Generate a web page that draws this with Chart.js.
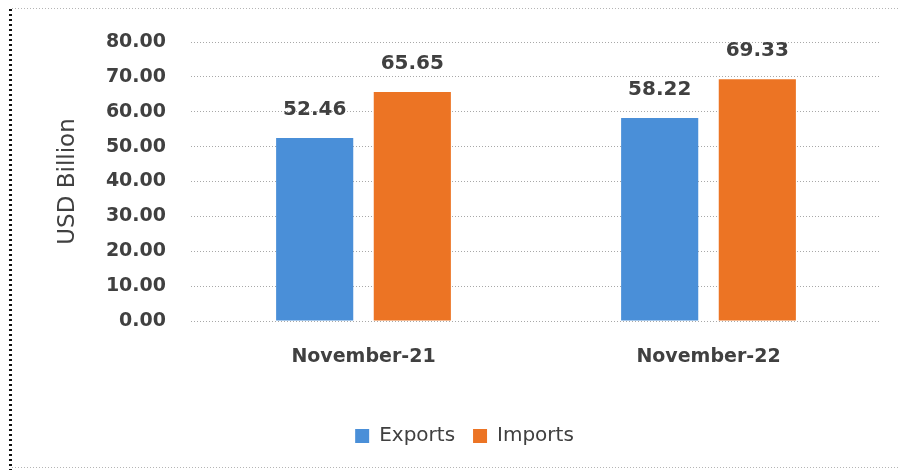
<!DOCTYPE html>
<html>
<head>
<meta charset="utf-8">
<script src="https://cdn.jsdelivr.net/npm/chart.js@4/dist/chart.umd.min.js"></script>
<style>
  html, body { margin: 0; padding: 0; background: #fff; }
  #wrap { width: 899px; height: 470px; position: relative; }
</style>
</head>
<body>
<div id="wrap"><canvas id="c" width="899" height="470"></canvas></div>
<script>
const categories = ['November-21', 'November-22'];
const exportsUSD = [52.46, 58.22];
const importsUSD = [65.65, 69.33];
const yTicks = [0, 10, 20, 30, 40, 50, 60, 70, 80];

const FONT = '"DejaVu Sans", sans-serif';
const TEXT = '#404040';

// dotted frame round the chart
const framePlugin = {
  id: 'frame',
  beforeDraw(chart) {
    const ctx = chart.ctx;
    ctx.save();
    ctx.fillStyle = '#fff';
    ctx.fillRect(0, 0, chart.width, chart.height);
    ctx.strokeStyle = '#b5b5b5';
    ctx.lineWidth = 1;
    ctx.setLineDash([1, 2]);
    ctx.beginPath();
    ctx.moveTo(12, 8.5); ctx.lineTo(899, 8.5);
    ctx.moveTo(12, 467.5); ctx.lineTo(899, 467.5);
    ctx.stroke();
    ctx.strokeStyle = '#111';
    ctx.lineWidth = 3;
    ctx.setLineDash([2, 3]);
    ctx.beginPath();
    ctx.moveTo(10.5, 9); ctx.lineTo(10.5, 470);
    ctx.stroke();
    ctx.restore();
  }
};

// centre the legend under the plot area rather than the whole canvas
const legendShift = {
  id: 'legendShift',
  afterLayout(chart) {
    const lg = chart.legend;
    if (lg) { lg.left += 24; lg.right += 24; }
  }
};

// value labels above each bar
const valueLabels = {
  id: 'valueLabels',
  afterDatasetsDraw(chart) {
    const ctx = chart.ctx;
    ctx.save();
    ctx.font = 'bold 20px ' + FONT;
    ctx.fillStyle = TEXT;
    ctx.textAlign = 'center';
    ctx.textBaseline = 'middle';
    chart.data.datasets.forEach((ds, i) => {
      chart.getDatasetMeta(i).data.forEach((bar, j) => {
        ctx.fillText(ds.data[j].toFixed(2), bar.x, bar.y - 28);
      });
    });
    ctx.restore();
  }
};

new Chart(document.getElementById('c'), {
  type: 'bar',
  data: {
    labels: categories,
    datasets: [
      { label: 'Exports', data: exportsUSD, backgroundColor: '#4A8FD8' },
      { label: 'Imports', data: importsUSD, backgroundColor: '#EC7424' }
    ]
  },
  options: {
    responsive: false,
    animation: false,
    devicePixelRatio: 1,
    categoryPercentage: 0.566,
    barPercentage: 0.79,
    layout: { padding: { top: 42, right: 18, bottom: 14, left: 0 } },
    plugins: {
      tooltip: { enabled: false },
      legend: {
        position: 'bottom',
        labels: {
          font: { family: FONT, size: 20 },
          color: TEXT,
          boxWidth: 14,
          boxHeight: 14,
          padding: 18
        }
      }
    },
    scales: {
      x: {
        grid: { display: false },
        border: { display: false },
        ticks: { font: { family: FONT, size: 19, weight: 'bold' }, color: TEXT, padding: 17 },
        afterFit(scale) { scale.height = 87; }
      },
      y: {
        min: 0,
        max: 80,
        afterBuildTicks(scale) { scale.ticks = yTicks.map(v => ({ value: v })); },
        afterFit(scale) { scale.width = 191; },
        grid: { color: '#a8a8a8', lineWidth: 1, drawTicks: false },
        border: { display: false, dash: [1, 2] },
        ticks: {
          font: { family: FONT, size: 19, weight: 'bold' },
          color: TEXT,
          padding: 25,
          callback: v => v.toFixed(2)
        },
        title: {
          display: true,
          text: 'USD Billion',
          font: { family: FONT, size: 23 },
          color: TEXT,
          padding: { top: 54, bottom: 0 }
        }
      }
    }
  },
  plugins: [framePlugin, legendShift, valueLabels]
});
</script>
</body>
</html>
